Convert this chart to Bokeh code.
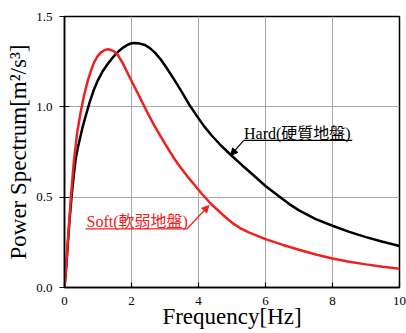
from bokeh.plotting import figure
from bokeh.models import Label, Arrow, NormalHead, FixedTicker, PrintfTickFormatter
from bokeh.embed import file_html
from bokeh.resources import INLINE

# Data
hard_f = [0, 0.05, 0.1, 0.15, 0.21, 0.27, 0.33, 0.4, 0.48, 0.55, 0.63, 0.75, 0.88, 1.0, 1.15,
          1.3, 1.45, 1.6, 1.75, 1.9, 2.0, 2.1, 2.25, 2.4, 2.55, 2.7, 2.87, 3.05, 3.27, 3.5,
          3.72, 3.95, 4.17, 4.4, 4.67, 5.0, 5.3, 5.6, 6.0, 6.4, 6.7, 7.0, 7.5, 8.0, 8.5, 9.0, 9.5, 10.0]
hard_s = [0, 0.11, 0.24, 0.37, 0.50, 0.61, 0.707, 0.775, 0.84, 0.895, 0.948, 1.025, 1.096, 1.148, 1.2,
          1.24, 1.275, 1.305, 1.328, 1.345, 1.352, 1.353, 1.35, 1.342, 1.325, 1.3, 1.263, 1.215, 1.152, 1.083,
          1.013, 0.95, 0.892, 0.84, 0.786, 0.728, 0.677, 0.628, 0.562, 0.505, 0.463, 0.427, 0.378, 0.342, 0.308,
          0.279, 0.253, 0.23]

soft_f = [0, 0.05, 0.1, 0.15, 0.2, 0.28, 0.38, 0.48, 0.58, 0.68, 0.78, 0.88, 0.98, 1.08, 1.2,
          1.31, 1.45, 1.58, 1.73, 1.88, 2.03, 2.18, 2.33, 2.48, 2.67, 2.87, 3.07, 3.17, 3.26, 3.38, 3.5, 3.7,
          3.9, 4.06, 4.36, 4.7, 4.87, 5.05, 5.27, 5.5, 6.0, 6.5, 7.0, 7.5, 8.0, 8.5, 9.0, 9.5, 10.0]
soft_s = [0, 0.12, 0.26, 0.39, 0.52, 0.70, 0.86, 0.967, 1.06, 1.134, 1.195, 1.245, 1.278, 1.30, 1.315,
          1.319, 1.31, 1.291, 1.245, 1.189, 1.133, 1.078, 1.022, 0.967, 0.9, 0.836, 0.775, 0.745, 0.718, 0.685, 0.656, 0.608,
          0.563, 0.527, 0.465, 0.407, 0.379, 0.352, 0.326, 0.305, 0.268, 0.237, 0.209, 0.183, 0.161, 0.143, 0.128, 0.115, 0.104]

x_ticks = [0, 2, 4, 6, 8, 10]
y_ticks = [0.0, 0.5, 1.0, 1.5]

RED = "#ee2020"
SERIF = "'Liberation Serif', 'Times New Roman', serif"
LABEL_FONT = "'Liberation Serif', 'Noto Sans CJK JP', serif"

p = figure(width=406, height=333, x_range=(0, 10), y_range=(0, 1.5),
           output_backend="svg", toolbar_location=None,
           min_border_left=64, min_border_right=7, min_border_top=16, min_border_bottom=46,
           background_fill_color="white", border_fill_color="white")

p.outline_line_color = "black"
p.outline_line_width = 1.5
p.outline_line_alpha = 1.0

p.xgrid.grid_line_color = "#a8a8a8"
p.ygrid.grid_line_color = "#a8a8a8"
p.xgrid.grid_line_width = 1
p.ygrid.grid_line_width = 1

p.xaxis.ticker = FixedTicker(ticks=x_ticks)
p.yaxis.ticker = FixedTicker(ticks=y_ticks)
p.yaxis.formatter = PrintfTickFormatter(format="%.1f")

for ax in (p.xaxis, p.yaxis):
    ax.axis_line_color = "black"
    ax.axis_line_width = 1.5
    ax.major_tick_line_color = "black"
    ax.major_tick_line_width = 1.2
    ax.minor_tick_line_color = None
    ax.major_label_text_font = SERIF
    ax.major_label_text_font_size = "13px"
    ax.major_label_text_color = "black"
    ax.axis_label_text_font = SERIF
    ax.axis_label_text_font_style = "normal"
    ax.axis_label_text_color = "black"

p.xaxis.major_tick_in = 5
p.xaxis.major_tick_out = 0
p.xaxis.major_label_standoff = 9
p.xaxis.axis_label = "Frequency[Hz]"
p.xaxis.axis_label_text_font_size = "23px"
p.xaxis.axis_label_standoff = -4

p.yaxis.major_tick_in = 5
p.yaxis.major_tick_out = 5
p.yaxis.major_label_standoff = 7
p.yaxis.axis_label = "Power Spectrum[m²/s³]"
p.yaxis.axis_label_text_font_size = "23px"
p.yaxis.axis_label_standoff = 2

p.line(hard_f, hard_s, line_color="black", line_width=2.5)
p.line(soft_f, soft_s, line_color=RED, line_width=2.5)

# Hard annotation
p.add_layout(Label(x=5.36, y=0.85, text="Hard(硬質地盤)", text_font=LABEL_FONT,
                   text_font_size="16px", text_color="black", text_baseline="alphabetic"))
p.segment(x0=[5.35], y0=[0.814], x1=[8.59], y1=[0.814], line_color="black", line_width=1.2)
p.add_layout(Arrow(end=NormalHead(size=7, fill_color="black", line_color="black"),
                   x_start=5.35, y_start=0.814, x_end=4.96, y_end=0.731,
                   line_color="black", line_width=1.2))

# Soft annotation
p.add_layout(Label(x=0.66, y=0.363, text="Soft(軟弱地盤)", text_font=LABEL_FONT,
                   text_font_size="16px", text_color=RED, text_baseline="alphabetic"))
p.segment(x0=[0.63], y0=[0.325], x1=[3.66], y1=[0.325], line_color=RED, line_width=1.2)
p.add_layout(Arrow(end=NormalHead(size=7, fill_color=RED, line_color=RED),
                   x_start=3.66, y_start=0.325, x_end=4.31, y_end=0.454,
                   line_color=RED, line_width=1.2))

open("out.html", "w").write(file_html(p, INLINE))
